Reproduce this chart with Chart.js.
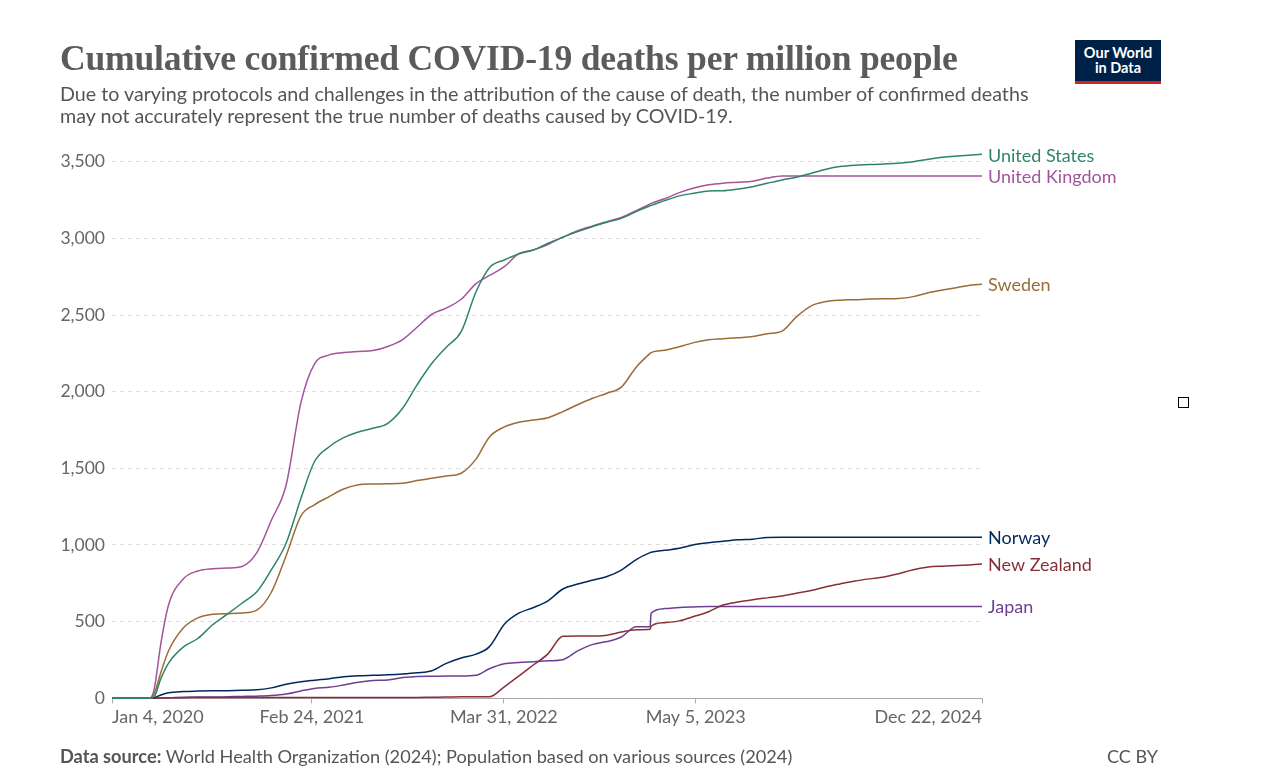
<!DOCTYPE html>
<html>
<head>
<meta charset="utf-8">
<script src="https://cdn.jsdelivr.net/npm/chart.js@4.4.1/dist/chart.umd.min.js"></script>
<style>
body { margin:0; width:1288px; height:778px; background:#fff; position:relative; overflow:hidden; font-family: Lato, sans-serif; }
#chart { position:absolute; left:0; top:0; }
#title { position:absolute; left:60px; top:37px; font-family:"Liberation Serif", serif; font-weight:bold; font-size:35.6px; color:#5b5b5b; white-space:nowrap; letter-spacing:-0.2px; }
#subtitle { position:absolute; left:60px; top:83px; font-size:19.7px; line-height:22px; color:#555; white-space:nowrap; }
#logo { position:absolute; left:1075px; top:40px; width:86px; background:#002147; border-bottom:3px solid #ce261e; color:#fff; font-weight:bold; font-size:14.5px; line-height:15px; text-align:center; padding-top:5px; height:36px; }
#source { position:absolute; left:60px; top:745px; font-size:18.2px; color:#555; white-space:nowrap; }
#cc { position:absolute; left:1107px; top:745px; font-size:18px; color:#555; }
#box { position:absolute; left:1178px; top:397px; width:9px; height:9px; border:1px solid #000; }
</style>
</head>
<body>
<canvas id="chart" width="1288" height="778"></canvas>
<div id="title">Cumulative confirmed COVID-19 deaths per million people</div>
<div id="subtitle">Due to varying protocols and challenges in the attribution of the cause of death, the number of confirmed deaths<br>may not accurately represent the true number of deaths caused by COVID-19.</div>
<div id="logo">Our World<br>in Data</div>
<div id="source"><b>Data source:</b> World Health Organization (2024); Population based on various sources (2024)</div>
<div id="cc">CC BY</div>
<div id="box"></div>
<script>
const dates = [
  "2020-01-04","2020-02-01","2020-03-01","2020-03-22","2020-04-01","2020-04-15","2020-05-01","2020-06-01","2020-07-01","2020-08-01","2020-09-01","2020-10-01","2020-11-01","2020-12-01",
  "2021-01-01","2021-02-01","2021-03-01","2021-04-01","2021-05-01","2021-06-01","2021-07-01","2021-08-01","2021-09-01","2021-10-01","2021-11-01","2021-12-01",
  "2022-01-01","2022-02-01","2022-03-01","2022-04-01","2022-05-01","2022-06-01","2022-07-01","2022-08-01","2022-09-01","2022-10-01","2022-11-01","2022-12-01",
  "2023-01-01","2023-01-30","2023-02-01","2023-03-01","2023-04-01","2023-05-01","2023-06-01","2023-07-01","2023-08-01","2023-09-01","2023-10-01","2023-11-01","2023-12-01",
  "2024-01-01","2024-02-01","2024-03-01","2024-04-01","2024-05-01","2024-06-01","2024-07-01","2024-08-01","2024-09-01","2024-10-01","2024-11-01","2024-12-01","2024-12-22"
]

const unitedStates = [
  0,0,0,0,10,130,230,335,390,480,550,620,695,837,
  1011,1305,1543,1641,1700,1737,1761,1794,1892,2044,2185,2290,
  2391,2652,2809,2859,2898,2924,2968,3007,3044,3076,3105,3131,
  3174,3213,3215,3246,3277,3294,3309,3311,3322,3337,3359,3381,3398,
  3425,3451,3468,3477,3481,3485,3490,3500,3516,3529,3537,3543,3548
]
const unitedKingdom = [
  0,0,0,0,60,360,610,780,830,845,850,860,950,1160,
  1390,1930,2180,2240,2255,2262,2268,2295,2340,2420,2505,2545,
  2603,2705,2758,2815,2900,2925,2960,3008,3050,3080,3109,3137,
  3180,3225,3228,3258,3298,3328,3349,3360,3366,3373,3393,3407,3407,
  3407,3407,3407,3407,3407,3407,3407,3407,3407,3407,3407,3407,3407
]
const sweden = [
  0,0,0,0,30,170,310,460,525,548,552,556,575,690,
  930,1190,1262,1316,1365,1393,1398,1400,1402,1420,1435,1450,
  1468,1560,1705,1770,1800,1815,1830,1870,1915,1955,1990,2030,
  2160,2250,2255,2270,2293,2320,2338,2345,2352,2360,2378,2395,2488,
  2560,2588,2597,2600,2604,2606,2608,2620,2645,2663,2680,2695,2701
]
const norway = [
  0,0,0,0,5,22,36,44,47,49,50,52,55,68,
  92,108,118,128,140,147,150,153,158,166,180,228,
  263,288,337,483,555,592,636,713,745,770,794,836,
  905,950,952,965,978,1001,1015,1024,1034,1038,1049,1050,1050,
  1050,1050,1050,1050,1050,1050,1050,1050,1050,1050,1050,1050,1050
]
const newZealand = [
  0,0,0,0,1,2,4,4,5,5,5,5,5,5,
  5,5,5,5,5,5,5,6,6,6,7,8,
  10,10,10,75,145,219,290,404,406,406,412,432,
  447,450,470,493,505,533,565,608,628,643,655,667,685,
  703,727,746,765,779,791,813,838,856,862,866,871,876
]
const japan = [
  0,0,0,0,1,2,3,7,8,8,10,12,14,18,
  28,48,64,72,87,105,116,120,135,143,144,145,
  145,150,193,225,234,239,245,252,309,350,370,400,
  466,467,555,585,593,596,598,598,598,598,598,598,598,
  598,598,598,598,598,598,598,598,598,598,598,598,598
]

const countries = ["United States","United Kingdom","Sweden","Norway","New Zealand","Japan"]
const seriesValues = [unitedStates, unitedKingdom, sweden, norway, newZealand, japan]
const colors = ["#2f8566","#a2559c","#996c38","#00295b","#883039","#6d3e91"]
const labelNudge = [2, 1, 1, 1, 1, 1]

const tickDates = ["2020-01-04","2021-02-24","2022-03-31","2023-05-05","2024-12-22"]
const tickLabels = ["Jan 4, 2020","Feb 24, 2021","Mar 31, 2022","May 5, 2023","Dec 22, 2024"]

const yTicks = [0,500,1000,1500,2000,2500,3000,3500]

const time = dates.map(d => Date.parse(d))

const endLabels = {
  id: "endLabels",
  afterDatasetsDraw(chart){
    const c = chart.ctx
    c.save()
    c.font = "18px Lato"
    c.textBaseline = "middle"
    chart.data.datasets.forEach((ds, i) => {
      const pts = chart.getDatasetMeta(i).data
      const p = pts[pts.length - 1]
      c.fillStyle = ds.borderColor
      c.fillText(ds.label, p.x + 6, p.y + labelNudge[i])
    })
    c.restore()
  }
}

const datasets = countries.map((name, i) => ({
  label: name,
  data: seriesValues[i].map((v, j) => ({x: time[j], y: v})),
  borderColor: colors[i],
  borderWidth: 1.5,
  pointRadius: 0,
  cubicInterpolationMode: "monotone",
  clip: false
}))

new Chart(document.getElementById("chart"), {
  type: "line",
  data: { datasets },
  options: {
    responsive: false,
    animation: false,
    layout: { padding: { top: 161.7, right: 306, left: 0, bottom: 0 } },
    plugins: { legend: { display: false }, tooltip: { enabled: false } },
    scales: {
      x: {
        type: "linear",
        min: Date.parse(tickDates[0]),
        max: Date.parse(tickDates[tickDates.length - 1]),
        afterBuildTicks(scale){ scale.ticks = tickDates.map(d => ({ value: Date.parse(d) })) },
        afterFit(scale){ scale.height = 79.7 },
        grid: { drawOnChartArea: false, tickLength: 5, color: "#a8a8a8" },
        border: { color: "#a8a8a8", width: 1 },
        ticks: {
          align: "inner", maxRotation: 0, autoSkip: false, padding: 3,
          color: "#666", font: { family: "Lato", size: 18 },
          callback: (v, i) => tickLabels[i]
        }
      },
      y: {
        min: 0, max: 3500,
        afterBuildTicks(scale){ scale.ticks = yTicks.map(v => ({ value: v })) },
        afterFit(scale){ scale.width = 112 },
        grid: { color: "#dcdcdc", drawTicks: false },
        border: { display: false, dash: [4, 4] },
        ticks: {
          padding: 7, color: "#666", font: { family: "Lato", size: 17.5 },
          callback: v => v.toLocaleString("en-US")
        }
      }
    }
  },
  plugins: [endLabels]
})
</script>
</body>
</html>
